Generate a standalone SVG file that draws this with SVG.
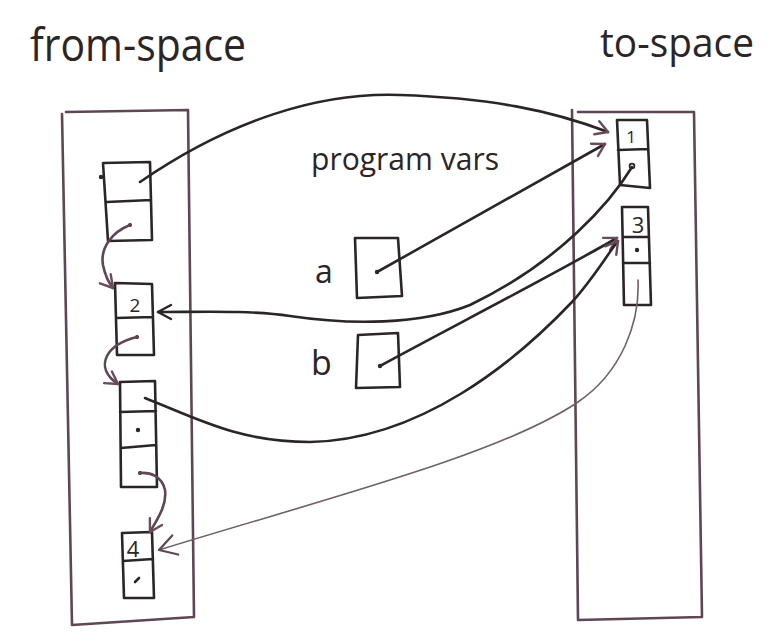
<svg xmlns="http://www.w3.org/2000/svg" width="780" height="634" viewBox="0 0 780 634">
  <style>
    .ink { fill: none; stroke: #2b2528; stroke-width: 2.6; stroke-linecap: round; stroke-linejoin: round; }
    .plum { fill: none; stroke: #5e4654; stroke-width: 2.6; stroke-linecap: round; stroke-linejoin: round; }
    .faint { fill: none; stroke: #6f5f68; stroke-width: 1.6; stroke-linecap: round; stroke-linejoin: round; }
    .hand { font-family: "Open Sans", "DejaVu Sans", sans-serif; font-weight: 400; fill: #2b2528; }
    .num { font-family: "Open Sans", "DejaVu Sans", sans-serif; font-weight: 400; fill: #2b2528; text-anchor: middle; }
    .dot { fill: #2b2528; }
  </style>
  <defs>
    <marker id="headInk" viewBox="-16 -10 20 20" refX="0" refY="0" markerWidth="20" markerHeight="20" markerUnits="userSpaceOnUse" orient="auto">
      <path d="M-13,-7 L0,0 L-13,7" fill="none" stroke="#2b2528" stroke-width="2.4" stroke-linecap="round" stroke-linejoin="round"/>
    </marker>
    <marker id="headPlum" viewBox="-16 -10 20 20" refX="0" refY="0" markerWidth="20" markerHeight="20" markerUnits="userSpaceOnUse" orient="auto">
      <path d="M-12,-7 L0,0 L-12,7" fill="none" stroke="#6b4a5c" stroke-width="2.4" stroke-linecap="round" stroke-linejoin="round"/>
    </marker>
    <marker id="headFaint" viewBox="-20 -12 24 24" refX="0" refY="0" markerWidth="24" markerHeight="24" markerUnits="userSpaceOnUse" orient="auto">
      <path d="M-17,-10 L0,0 L-17,10" fill="none" stroke="#5e4654" stroke-width="2.2" stroke-linecap="round" stroke-linejoin="round"/>
    </marker>
  </defs>

  <rect width="780" height="634" fill="#ffffff"/>

  <!-- heading labels -->
  <text class="hand" x="30" y="61" font-size="46" textLength="216" lengthAdjust="spacingAndGlyphs">from-space</text>
  <text class="hand" x="600" y="57" font-size="40" textLength="154" lengthAdjust="spacingAndGlyphs">to-space</text>
  <text class="hand" x="311" y="170" font-size="31" textLength="188" lengthAdjust="spacingAndGlyphs">program vars</text>

  <!-- heap regions -->
  <g id="from-space">
    <path class="plum" d="M66,112 L188,110 M62,114 L72,625 L194,617 M188,110 L194,617"/>
  </g>
  <g id="to-space">
    <path class="plum" d="M578,112 L694,112 L702,617 M572,110 L578,620 L702,617"/>
  </g>

  <!-- from-space objects -->
  <g id="from-obj1">
    <path class="ink" d="M103,163 L150,162 L152,240 L108,241 Z M107,202 L151,200"/>
    <circle class="dot" cx="101" cy="177" r="2.2"/>
  </g>
  <g id="from-obj2">
    <path class="ink" d="M115,283 L152,284 L154,355 L117,355 Z M116,318 L153,317"/>
    <text class="num" x="135" y="312" font-size="19">2</text>
  </g>
  <g id="from-obj3">
    <path class="ink" d="M120,382 L155,381 L157,487 L121,487 Z M120,412 L156,411 M121,448 L156,445"/>
    <circle class="dot" cx="138" cy="430" r="2.2"/>
  </g>
  <g id="from-obj4">
    <path class="ink" d="M122,533 L152,532 L154,598 L124,598 Z M123,561 L153,559"/>
    <text class="num" x="133" y="557" font-size="22">4</text>
    <path class="ink" d="M135,582 L139,578"/>
  </g>

  <!-- to-space objects -->
  <g id="to-obj1">
    <path class="ink" d="M617,120 L647,120 L650,188 L620,185 Z M618,150 L648,149"/>
    <text class="num" x="631" y="143" font-size="17">1</text>
    <circle cx="632" cy="166" r="2.4" fill="none" stroke="#2b2528" stroke-width="1.8"/>
  </g>
  <g id="to-obj3">
    <path class="ink" d="M622,207 L648,207 L651,305 L624,305 Z M623,237 L649,237 M623,263 L650,263"/>
    <text class="num" x="638" y="233" font-size="22">3</text>
    <circle class="dot" cx="637" cy="250" r="2.2"/>
  </g>

  <!-- program variables -->
  <g id="var-a">
    <text class="hand" x="315" y="283" font-size="32">a</text>
    <path class="ink" d="M355,238 L398,238 L402,296 L357,298 Z"/>
    <circle class="dot" cx="377" cy="272" r="2.2"/>
  </g>
  <g id="var-b">
    <text class="hand" x="311" y="375" font-size="34">b</text>
    <path class="ink" d="M358,335 L398,333 L400,387 L356,388 Z"/>
    <circle class="dot" cx="380" cy="366" r="2.2"/>
  </g>

  <!-- pointers -->
  <g id="connectors">
    <!-- from-space obj1 forwarded to to-space obj1 -->
    <path class="ink" marker-end="url(#headPlum)" d="M140,182 C 230,120 320,92 400,95 C 490,98 550,110 608,132"/>
    <!-- a -> to-space obj1 -->
    <path class="ink" marker-end="url(#headPlum)" d="M377,272 L605,144"/>
    <!-- to-space obj1 field -> from-space obj2 -->
    <path class="ink" marker-end="url(#headInk)" d="M632,167 C 612,200 560,262 470,305 C 420,325 350,325 290,316 C 250,310 200,312 158,312"/>
    <!-- b -> to-space obj3 -->
    <path class="ink" marker-end="url(#headPlum)" d="M380,366 C 440,333 540,282 617,238"/>
    <!-- from-space obj3 forwarded to to-space obj3 -->
    <path class="ink" marker-end="url(#headPlum)" d="M145,398 C 200,420 240,442 310,442 C 420,440 515,362 572,302 C 592,280 605,258 618,241"/>
    <!-- to-space obj3 field -> from-space obj4 -->
    <path class="faint" marker-end="url(#headFaint)" d="M638,280 C 640,322 622,372 578,402 C 500,455 320,500 159,550"/>

    <!-- links inside from-space -->
    <circle class="dot" cx="130" cy="225" r="2"/>
    <path class="plum" marker-end="url(#headPlum)" d="M130,225 C 112,232 100,248 103,265 C 105,275 108,282 113,288"/>
    <circle class="dot" cx="137" cy="337" r="2"/>
    <path class="plum" marker-end="url(#headPlum)" d="M137,337 C 125,340 112,346 107,356 C 102,366 106,376 118,384"/>
    <circle class="dot" cx="140" cy="473" r="2"/>
    <path class="plum" marker-end="url(#headPlum)" d="M140,473 C 150,472 162,476 165,490 C 167,505 158,518 150,532"/>
  </g>
</svg>
